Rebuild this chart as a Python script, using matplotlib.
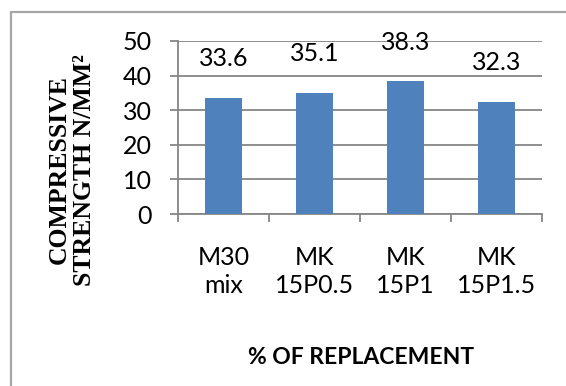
import matplotlib.pyplot as plt
from matplotlib.patches import Rectangle

# compressive strength results
categories = ["M30\nmix", "MK\n15P0.5", "MK\n15P1", "MK\n15P1.5"]
strength = [33.6, 35.1, 38.3, 32.3]
yticks = [0, 10, 20, 30, 40, 50]

W, H = 566, 386
fig = plt.figure(figsize=(W / 100, H / 100), dpi=100)

# outer chart frame
fig.patches.append(Rectangle((11 / W, -0.05), 1.2, (H - 12) / H + 0.05,
                             transform=fig.transFigure, fill=False,
                             edgecolor="#a6a6a6", linewidth=1.6))

ax = fig.add_axes([178 / W, (H - 214) / H, (542 - 178) / W, (214 - 41) / H])

x = list(range(len(categories)))
bars = ax.bar(x, strength, width=0.4, color="#4f81bd", zorder=3)

for b, v in zip(bars, strength):
    ax.annotate(f"{v}", (b.get_x() + b.get_width() / 2, v),
                xytext=(0, 20), textcoords="offset points",
                ha="center", va="bottom", fontsize=18, family="Lato")

ax.set_xlim(-0.5, len(categories) - 0.5)
ax.set_ylim(0, 50)
ax.set_yticks(yticks)
ax.grid(axis="y", color="#868686", linewidth=1.3, zorder=0)

ax.set_xticks(x)
ax.set_xticklabels(categories, fontsize=18, family="Lato", linespacing=1.25)
ax.set_xticks([i - 0.5 for i in range(len(categories) + 1)], minor=True)
ax.tick_params(axis="x", which="major", length=0, pad=23)
ax.tick_params(axis="x", which="minor", length=6, width=1.3, color="#868686")
ax.tick_params(axis="y", length=6, width=1.3, color="#868686", pad=13,
               labelsize=18)
for t in ax.get_yticklabels():
    t.set_family("Lato")

for s in ["top", "right"]:
    ax.spines[s].set_visible(False)
for s in ["left", "bottom"]:
    ax.spines[s].set_color("#868686")
    ax.spines[s].set_linewidth(1.3)

fig.text(361 / W, 1 - 357 / H, "% OF REPLACEMENT", ha="center", va="center",
         fontsize=16.5, fontweight="bold", family="Lato")
fig.text(72 / W, 1 - 170 / H, "COMPRESSIVE\nSTRENGTH N/MM\u00b2", rotation=90,
         ha="center", va="center", multialignment="center", linespacing=1.12,
         fontsize=18.5, fontweight="bold", family="Liberation Serif")

fig.savefig("out.png", dpi=100)
